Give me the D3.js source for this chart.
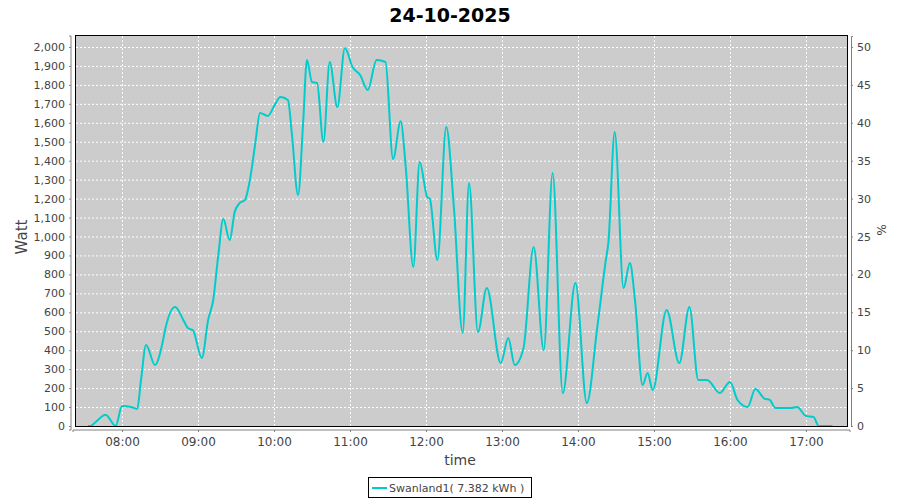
<!DOCTYPE html>
<html><head><meta charset="utf-8">
<script src="https://cdn.jsdelivr.net/npm/d3@7/dist/d3.min.js"></script>
<style>body{margin:0;background:#fff;}svg{display:block;font-family:"DejaVu Sans",sans-serif;}</style>
</head><body><svg id="c" width="900" height="500"></svg>
<script>
const title = "24-10-2025";
const seriesName = "Swanland1( 7.382 kWh )";
const times = ["07:33","07:35","07:39","07:47","07:55","08:00","08:07","08:12","08:15","08:19","08:26","08:32","08:34","08:42","08:48","08:52","08:56","09:03","09:08","09:12","09:16","09:20","09:25","09:29","09:33","09:37","09:41","09:45","09:49","09:55","10:01","10:05","10:11","10:14","10:19","10:23","10:26","10:30","10:34","10:39","10:44","10:50","10:56","11:02","11:08","11:14","11:21","11:28","11:34","11:40","11:44","11:50","11:55","12:01","12:03","12:09","12:16","12:22","12:29","12:34","12:41","12:48","12:59","13:05","13:10","13:17","13:25","13:33","13:40","13:48","13:58","14:07","14:15","14:22","14:24","14:29","14:36","14:41","14:45","14:51","14:55","14:59","15:10","15:20","15:28","15:35","15:42","15:52","16:00","16:06","16:14","16:20","16:28","16:31","16:36","16:48","16:53","17:00","17:06","17:10","17:21"];
const watts = [0,0,20,60,0,105,100,90,243,427,322,440,507,628,565,517,505,359,560,665,900,1092,981,1130,1177,1192,1300,1480,1652,1636,1700,1736,1720,1550,1219,1600,1931,1815,1810,1499,1921,1683,1995,1894,1852,1773,1931,1921,1409,1608,1367,839,1393,1208,1200,876,1578,1156,491,1282,496,728,332,464,322,412,945,401,1335,174,755,121,507,876,966,1551,728,860,665,216,280,190,612,332,628,243,243,174,232,137,100,195,142,140,95,95,100,53,48,0,0];
const wattTicks = [0,100,200,300,400,500,600,700,800,900,1000,1100,1200,1300,1400,1500,1600,1700,1800,1900,2000];
const pctTicks = [0,5,10,15,20,25,30,35,40,45,50];
const hourTicks = ["08:00","09:00","10:00","11:00","12:00","13:00","14:00","15:00","16:00","17:00"];

const parse = d3.timeParse("%H:%M");
const parseS = d3.timeParse("%H:%M:%S");
const data = times.map((t,i)=>({t:parse(t), w:watts[i]}));
const L=76, R=847, T=36, B=426;
const x = d3.scaleTime().domain([parseS("07:23:40"), parseS("17:32:25")]).range([L,R]);
const y = d3.scaleLinear().domain([0,2058]).range([B,T]);
const y2 = d3.scaleLinear().domain([0,2058/40]).range([B,T]);
const svg = d3.select("#c");
const grey="#808080", txt="#444";

svg.append("rect").attr("x",L).attr("y",T).attr("width",R-L).attr("height",B-T).attr("fill","#cccccc");
// grid
svg.append("g").selectAll("line").data(wattTicks).join("line")
  .attr("x1",L).attr("x2",R).attr("y1",d=>y(d)+0.5).attr("y2",d=>y(d)+0.5)
  .attr("stroke","#fff").attr("stroke-dasharray","2,2");
svg.append("g").selectAll("line").data(hourTicks).join("line")
  .attr("y1",T).attr("y2",B).attr("x1",d=>Math.round(x(parse(d)))+0.5).attr("x2",d=>Math.round(x(parse(d)))+0.5)
  .attr("stroke","#fff").attr("stroke-dasharray","2,2");

// line
svg.append("clipPath").attr("id","cp").append("rect").attr("x",L).attr("y",T).attr("width",R-L).attr("height",B-T);
svg.append("path").datum(data).attr("clip-path","url(#cp)")
  .attr("d", d3.line().x(d=>x(d.t)).y(d=>y(d.w)).curve(d3.curveMonotoneX))
  .attr("fill","none").attr("stroke","#00cccc").attr("stroke-width",2);

svg.append("rect").attr("x",L-0.5).attr("y",T-0.5).attr("width",R-L+1).attr("height",B-T+1).attr("fill","none").attr("stroke","#000");

// axes
const ax = svg.append("g").attr("transform",`translate(${L-5},0)`)
  .call(d3.axisLeft(y).tickValues(wattTicks).tickFormat(d3.format(",")).tickSize(2).tickPadding(4));
const ax2 = svg.append("g").attr("transform",`translate(${R+4},0)`)
  .call(d3.axisRight(y2).tickValues(pctTicks).tickSize(2).tickPadding(4));
const axb = svg.append("g").attr("transform",`translate(0,${B+4})`)
  .call(d3.axisBottom(x).tickValues(hourTicks.map(parse)).tickFormat(d3.timeFormat("%H:%M")).tickSize(2).tickPadding(5));
[ax,ax2,axb].forEach(g=>{
  g.selectAll("path,line").attr("stroke",grey);
  g.selectAll("text").attr("fill",txt).style("font-size","11px").style("font-family","DejaVu Sans");
});
axb.selectAll("text").style("font-size","12px");
ax.select(".domain").attr("d",`M-2,${T}H0V${B+4}H-2`);
axb.select(".domain").attr("d",`M${L-3},2V0H${R+3}V2`);

svg.append("text").attr("x",450).attr("y",22).attr("text-anchor","middle")
  .style("font-size","19px").style("font-weight","bold").attr("fill","#000").text(title);
svg.append("text").attr("transform","translate(27,237) rotate(-90)").attr("text-anchor","middle")
  .style("font-size","15px").attr("fill",txt).text("Watt");
svg.append("text").attr("x",460).attr("y",465).attr("text-anchor","middle")
  .style("font-size","14px").attr("fill",txt).text("time");
svg.append("text").attr("transform","translate(877,230) rotate(90)").attr("text-anchor","middle")
  .style("font-size","12px").attr("fill",txt).text("%");

// legend
const lg = svg.append("g");
lg.append("rect").attr("x",368.5).attr("y",477.5).attr("width",163).attr("height",20).attr("fill","#fff").attr("stroke","#000");
lg.append("line").attr("x1",372).attr("x2",387).attr("y1",488).attr("y2",488).attr("stroke","#00cccc").attr("stroke-width",2);
lg.append("text").attr("x",389).attr("y",492).style("font-size","11px").attr("fill",txt).text(seriesName);
</script></body></html>
